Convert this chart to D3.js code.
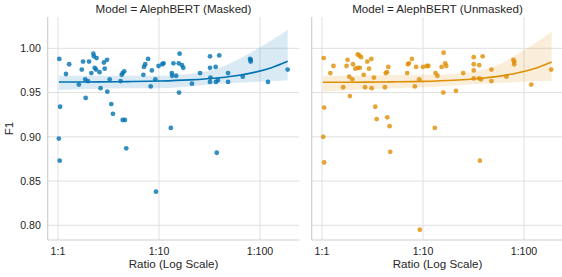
<!DOCTYPE html>
<html><head><meta charset="utf-8">
<script src="https://cdn.jsdelivr.net/npm/d3@7"></script>
<style>html,body{margin:0;padding:0;background:#fff;}svg{display:block;font-family:"Liberation Sans",Arial,sans-serif;}</style>
</head><body>
<svg id="chart" width="562" height="277"></svg>
<script>
// ---- data ----
const panelTitles = ["Model = AlephBERT (Masked)", "Model = AlephBERT (Unmasked)"];
const xTickValues = [1, 10, 100];
const xTickLabels = ["1:1", "1:10", "1:100"];
const yTickValues = [0.80, 0.85, 0.90, 0.95, 1.00];

// [ratio, F1]
const maskedPoints = [
 [1.03,0.988],[1.05,0.934],[1.2,0.971],[1.29,0.982],[1.61,0.959],[1.72,0.976],[1.77,0.985],[1.86,0.965],
 [1.88,0.944],[1.98,0.963],[2.03,0.985],[2.14,0.972],[2.24,0.994],[2.27,0.991],[2.31,0.978],[2.38,0.976],
 [2.41,0.989],[2.58,0.973],[2.64,0.955],[2.85,0.984],[2.9,0.977],[3.06,0.987],[3.08,0.951],[3.25,0.965],
 [3.37,0.937],[3.5,0.926],[4.17,0.963],[4.27,0.970],[4.37,0.972],[4.53,0.974],[4.37,0.919],[4.6,0.919],
 [7.0,0.970],[7.1,0.979],[7.3,0.982],[7.8,0.988],[8.28,0.957],[8.5,0.975],[9.2,0.965],[9.9,0.980],
 [10.8,0.982],[11.1,0.983],[13.1,0.910],[13.4,0.972],[13.5,0.969],[13.9,0.983],[14.8,0.969],[15.7,0.983],
 [16.0,0.994],[15.8,0.950],[16.9,0.981],[17.4,0.978],[21.2,0.960],[25.5,0.972],[32,0.991],[32,0.978],
 [32.3,0.967],[32,0.962],[36.4,0.979],[36.6,0.962],[38.3,0.964],[39.5,0.992],[48.3,0.972],[48.3,0.962],
 [67.5,0.968],[79.7,0.988],[80.9,0.987],[80.9,0.985],[120,0.962],[188,0.976],
 [1.02,0.898],[1.04,0.873],[4.74,0.887],[9.34,0.838],[37.3,0.882]
];
const unmaskedPoints = [
 [1.04,0.989],[1.05,0.933],[1.21,0.972],[1.3,0.980],[1.62,0.956],[1.75,0.980],[1.79,0.987],[1.86,0.968],
 [1.89,0.946],[2.0,0.965],[2.03,0.982],[2.14,0.977],[2.26,0.993],[2.34,0.992],[2.44,0.990],[2.26,0.978],
 [2.37,0.978],[2.59,0.970],[2.67,0.956],[2.81,0.985],[2.92,0.977],[3.08,0.988],[3.1,0.955],[3.27,0.967],
 [3.37,0.934],[3.48,0.920],[4.2,0.956],[4.27,0.972],[4.4,0.973],[4.53,0.979],[4.43,0.922],[4.67,0.912],
 [6.97,0.972],[7.1,0.982],[7.25,0.983],[7.76,0.988],[8.3,0.957],[8.55,0.979],[9.2,0.965],[10.0,0.979],
 [10.9,0.980],[11.3,0.980],[13.1,0.910],[13.3,0.972],[13.9,0.969],[15.3,0.979],[15.9,0.950],[16,0.995],
 [16.6,0.983],[17,0.980],[21.2,0.952],[25,0.972],[31.8,0.990],[31.8,0.982],[31.8,0.975],[31.8,0.966],
 [36,0.981],[36,0.966],[37.6,0.965],[39,0.991],[47.6,0.976],[47.6,0.963],[67,0.968],[78.5,0.987],
 [80,0.985],[80,0.982],[118,0.959],[186,0.976],
 [1.03,0.900],[1.05,0.871],[4.74,0.883],[9.3,0.795],[36.6,0.873]
];

// regression line and confidence band, read at these ratios
const fitRatios    = [1.02, 2, 5, 10, 20, 40, 60, 90, 130, 188];
const maskedFit    = [0.9619, 0.9620, 0.9624, 0.9630, 0.9643, 0.9668, 0.9693, 0.9731, 0.9781, 0.9853];
const maskedLow    = [0.953, 0.954, 0.955, 0.955, 0.957, 0.960, 0.961, 0.962, 0.963, 0.964];
const maskedHigh   = [0.969, 0.969, 0.969, 0.969, 0.971, 0.978, 0.987, 0.998, 1.009, 1.021];
const unmaskedFit  = [0.9616, 0.9617, 0.9621, 0.9627, 0.9640, 0.9665, 0.9689, 0.9727, 0.9776, 0.9846];
const unmaskedLow  = [0.951, 0.953, 0.955, 0.956, 0.958, 0.960, 0.961, 0.962, 0.963, 0.9635];
const unmaskedHigh = [0.969, 0.969, 0.970, 0.970, 0.971, 0.976, 0.983, 0.995, 1.006, 1.019];

const colors = ["#0173b2", "#de8f05"];

// ---- drawing ----
const svg = d3.select("#chart");
const yTop = 17, yBottom = 240;
const panels = [
  {x0: 47.7, x1: 299.3, pts: maskedPoints, fit: maskedFit, lo: maskedLow, hi: maskedHigh},
  {x0: 311.7, x1: 563.3, pts: unmaskedPoints, fit: unmaskedFit, lo: unmaskedLow, hi: unmaskedHigh}
];
const y = d3.scaleLinear().domain([0.7834, 1.0354]).range([yBottom, yTop]);
const textColor = "#262626";

panels.forEach((p, i) => {
  const x = d3.scaleLog().domain([0.791, 245]).range([p.x0, p.x1]);
  const g = svg.append("g");
  // grid
  g.selectAll(".gx").data(xTickValues).enter().append("line")
    .attr("x1", d => x(d)).attr("x2", d => x(d)).attr("y1", yTop).attr("y2", yBottom)
    .attr("stroke", "#e0e0e0").attr("stroke-width", 1);
  g.selectAll(".gy").data(yTickValues).enter().append("line")
    .attr("x1", p.x0).attr("x2", p.x1).attr("y1", d => y(d)).attr("y2", d => y(d))
    .attr("stroke", "#e0e0e0").attr("stroke-width", 1);
  // spines
  g.append("line").attr("x1", p.x0).attr("x2", p.x0).attr("y1", yTop).attr("y2", yBottom)
    .attr("stroke", "#cfcfcf").attr("stroke-width", 1.2);
  g.append("line").attr("x1", p.x0).attr("x2", p.x1).attr("y1", yBottom).attr("y2", yBottom)
    .attr("stroke", "#cfcfcf").attr("stroke-width", 1.2);

  // points
  g.selectAll(".pt").data(p.pts).enter().append("circle")
    .attr("cx", d => x(d[0])).attr("cy", d => y(d[1])).attr("r", 2.4)
    .attr("fill", colors[i]).attr("fill-opacity", 0.8);

  // band
  const rows = fitRatios.map((r, k) => ({r, f: p.fit[k], lo: p.lo[k], hi: p.hi[k]}));
  const area = d3.area().x(d => x(d.r)).y0(d => y(d.lo)).y1(d => y(d.hi)).curve(d3.curveMonotoneX);
  g.append("path").datum(rows).attr("d", area).attr("fill", colors[i]).attr("fill-opacity", 0.15);
  const line = d3.line().x(d => x(d.r)).y(d => y(d.f)).curve(d3.curveMonotoneX);
  g.append("path").datum(rows).attr("d", line).attr("fill", "none")
    .attr("stroke", colors[i]).attr("stroke-width", 1.6);

  // x tick labels
  g.selectAll(".xt").data(xTickValues).enter().append("text")
    .attr("x", d => x(d)).attr("y", 254.5).attr("text-anchor", "middle")
    .attr("font-size", "10.6px").attr("fill", textColor)
    .text((d, k) => xTickLabels[k]);
  // x label
  g.append("text").attr("x", (p.x0 + p.x1) / 2).attr("y", 267.8)
    .attr("text-anchor", "middle").attr("font-size", "11.6px").attr("fill", textColor)
    .text("Ratio (Log Scale)");
  // title
  g.append("text").attr("x", (p.x0 + p.x1) / 2).attr("y", 13.3)
    .attr("text-anchor", "middle").attr("font-size", "11.6px").attr("fill", textColor)
    .text(panelTitles[i]);

  if (i === 0) {
    g.selectAll(".yt").data(yTickValues).enter().append("text")
      .attr("x", 40.8).attr("y", d => y(d)).attr("dy", "0.36em").attr("text-anchor", "end")
      .attr("font-size", "10.6px").attr("fill", textColor)
      .text(d => d3.format(".2f")(d));
    g.append("text").attr("transform", `translate(13.2,${(yTop + yBottom) / 2}) rotate(-90)`)
      .attr("text-anchor", "middle").attr("font-size", "11.6px").attr("fill", textColor)
      .text("F1");
  }
});
</script>
</body></html>
